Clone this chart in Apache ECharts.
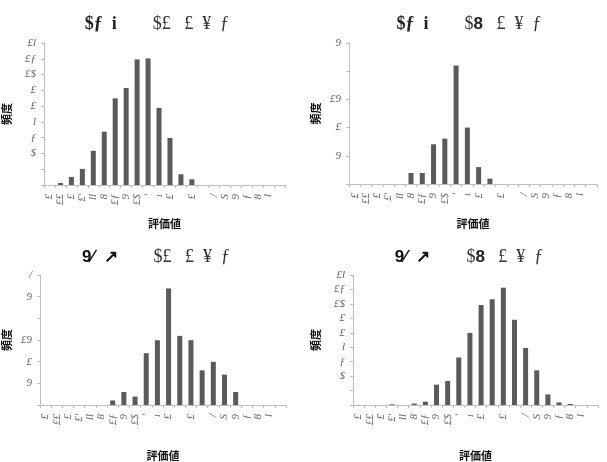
<!DOCTYPE html>
<html>
<head>
<meta charset="utf-8">
<script src="https://cdn.jsdelivr.net/npm/echarts@6/dist/echarts.min.js"></script>
<style>html,body{margin:0;padding:0;background:#fff}#c{width:607px;height:462px}</style>
</head>
<body>
<div id="c"></div>
<script>
// Category labels (x axis, shared by all panels)
const categories = ['£', '££', '£', '£ʹ', 'll', '8', '£ƒ', '9', '£$', 'ʹ', 'ı', '£', '', '£', '', '/', 'S', '9', 'ƒ', '8', 'l', ''];

// Y tick labels (index = tick value)
const yTicksA = ['', '', '$', 'ƒ', 'l', '£', '£', '£$', '£ƒ', '£l'];
const yTicksB = ['', '9', '£', '£9', '', '9'];
const yTicksC = ['', '9', '£', '£9', '', '9', '/'];

// Series values (in tick units)
const valuesTL = [0, 0.13, 0.51, 1.02, 2.17, 3.38, 5.49, 6.15, 7.96, 8.02, 4.89, 2.98, 0.68, 0.36, 0, 0, 0, 0, 0, 0, 0, 0];
const valuesTR = [0, 0, 0, 0, 0, 0.39, 0.39, 1.41, 1.61, 4.2, 2.0, 0.6, 0.19, 0, 0, 0, 0, 0, 0, 0, 0, 0];
const valuesBL = [0, 0, 0, 0, 0, 0, 0.21, 0.6, 0.39, 2.39, 2.99, 5.38, 3.19, 2.99, 1.6, 1.99, 1.4, 0.6, 0, 0, 0, 0];
const valuesBR = [0, 0, 0, 0.05, 0, 0.1, 0.23, 1.41, 1.66, 3.29, 4.99, 6.92, 7.32, 8.12, 5.9, 3.95, 2.4, 0.73, 0.18, 0.07, 0, 0];

const titleTL = ['$ƒ  i', '$£   £  ¥  ƒ'];
const titleTR = ['$ƒ  i', '$', '8', '   £  ¥  ƒ'];
const titleBL = ['9⁄  ↗', '$£   £  ¥  ƒ'];
const titleBR = ['9⁄  ↗', '$', '8', '   £  ¥  ƒ'];
const xName = '評価値';
const yName = '頻度';

const chart = echarts.init(document.getElementById('c'), null, {renderer: 'canvas'});

const axisGray = '#bfbfbf';
const serif = '"Liberation Serif", "DejaVu Serif", serif';
const rich = {
  a: {fontFamily: serif, fontSize: 18, fontWeight: 'bold', color: '#222'},
  b: {fontFamily: serif, fontSize: 18, fontWeight: 'normal', color: '#333'},
  c: {fontFamily: '"Liberation Sans", sans-serif', fontSize: 17, fontWeight: 'bold', color: '#111'},
  d: {fontFamily: '"Liberation Sans", sans-serif', fontSize: 17, fontWeight: 'bold', color: '#222'}
};
function makeTitle(parts, x, y) {
  const first = parts[0].startsWith('9') ? 'c' : 'a';
  let text;
  if (parts.length === 2) {
    text = '{' + first + '|' + parts[0] + '}{b|        ' + parts[1] + '}';
  } else {
    text = '{' + first + '|' + parts[0] + '}{b|        ' + parts[1] + '}{d|' + parts[2] + '}{b|' + parts[3] + '}';
  }
  return {text: text, left: x, top: y, textAlign: 'center', textStyle: {fontWeight: 'normal', rich: rich}};
}

const grids = [
  {left: 40, top: 43, width: 245, height: 142},
  {left: 349, top: 43, width: 248, height: 141},
  {left: 36, top: 275, width: 250, height: 132},
  {left: 353, top: 275, width: 245, height: 132}
];
const yTickSets = [yTicksA, yTicksB, yTicksC, yTicksA];
const yNameGaps = [32, 28, 28, 32];
const xNameGaps = [33, 34, 45, 45];
const seriesData = [valuesTL, valuesTR, valuesBL, valuesBR];

const xAxes = grids.map((g, i) => ({
  type: 'category', gridIndex: i, data: categories,
  name: xName, nameLocation: 'middle', nameGap: xNameGaps[i],
  nameTextStyle: {fontFamily: '"Noto Sans CJK JP", sans-serif', fontSize: 11, fontWeight: 'bold', color: '#111'},
  axisLine: {lineStyle: {color: axisGray}},
  axisTick: {show: true, alignWithLabel: false, length: 3, lineStyle: {color: axisGray}},
  axisLabel: {interval: 0, rotate: 90, margin: 9, fontFamily: serif, fontStyle: 'italic', fontSize: 11, color: '#666'}
}));
const yAxes = grids.map((g, i) => ({
  type: 'value', gridIndex: i, min: 0, max: yTickSets[i].length - 1, interval: 1,
  name: yName, nameLocation: 'middle', nameGap: yNameGaps[i],
  nameTextStyle: {fontFamily: '"Noto Sans CJK JP", sans-serif', fontSize: 11, fontWeight: 'bold', color: '#111'},
  axisLine: {show: true, lineStyle: {color: axisGray}},
  axisTick: {show: true, length: 3, lineStyle: {color: axisGray}},
  splitLine: {show: false},
  axisLabel: {margin: 8, fontFamily: serif, fontStyle: 'italic', fontSize: 11, color: '#666',
    formatter: (v) => yTickSets[i][Math.round(v)] || ''}
}));
const series = seriesData.map((d, i) => ({
  type: 'bar', xAxisIndex: i, yAxisIndex: i, data: d, barWidth: 5,
  itemStyle: {color: '#5a5a5a'}, silent: true
}));

chart.setOption({
  animation: false,
  title: [
    makeTitle(titleTL, 152, 10),
    makeTitle(titleTR, 464, 10),
    makeTitle(titleBL, 151, 243),
    makeTitle(titleBR, 464, 243)
  ],
  grid: grids,
  xAxis: xAxes,
  yAxis: yAxes,
  series: series
});
</script>
</body>
</html>
